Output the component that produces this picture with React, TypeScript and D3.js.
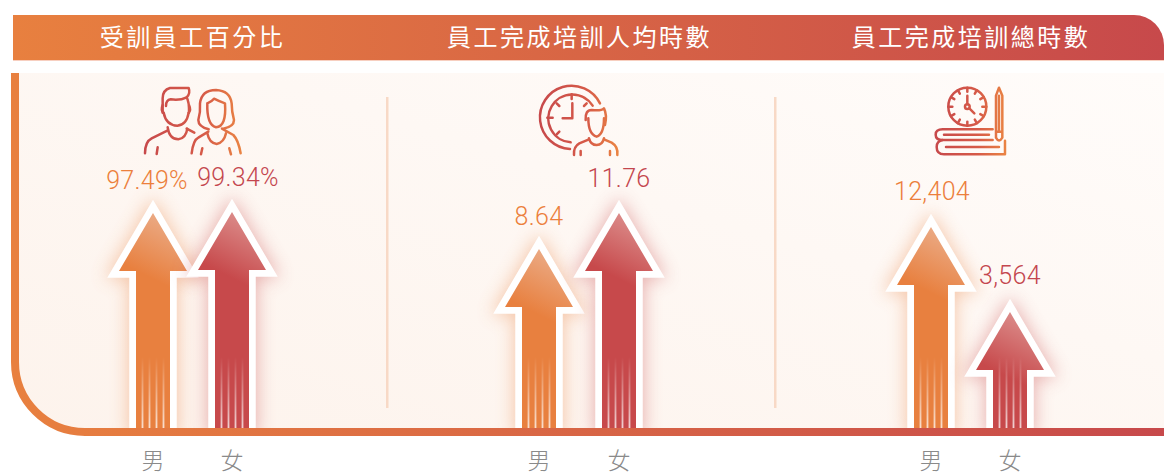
import React from "react";
import * as d3 from "d3";

const panelTitles = ["受訓員工百分比", "員工完成培訓人均時數", "員工完成培訓總時數"];
const genders = ["男", "女"];
const maleValues = [97.49, 8.64, 12404];
const femaleValues = [99.34, 11.76, 3564];
const valueLabels = [["97.49%", "99.34%"], ["8.64", "11.76"], ["12,404", "3,564"]];

// layout of each small-multiple panel (own scale per panel, as in the reference)
const titleCentres = [192.5, 579.5, 971];
const xRanges = [[153, 232], [539, 619], [931, 1010]];
const tipRanges = [[213, 212], [249, 213], [227, 312]];
const labelNudges = [[[-6, -24], [6, -26]], [[0, -24], [0, -26]], [[1, -27], [0, -28]]];
const dividers = [387, 775];

const W = 1164, H = 475;
const BASE = 428;
const ORANGE = "#E8803F", RED = "#C7494B";
const HEAD_H = 58, HEAD_HW = 34, SHAFT_HW = 17;
const streakOffsets = [-10.5, -3.5, 3.5, 10.5];

const line = d3.line<[number, number]>();
function arrowPath(cx: number, tip: number) {
  return line([
    [cx, tip],
    [cx + HEAD_HW, tip + HEAD_H],
    [cx + SHAFT_HW, tip + HEAD_H],
    [cx + SHAFT_HW, BASE],
    [cx - SHAFT_HW, BASE],
    [cx - SHAFT_HW, tip + HEAD_H],
    [cx - HEAD_HW, tip + HEAD_H],
  ])! + "Z";
}

const iconStyle = { fill: "none", strokeLinecap: "round", strokeLinejoin: "round" } as const;

function People() {
  return (
    <g transform="translate(90,70) scale(0.3333)" {...iconStyle} stroke="url(#icon1)" strokeWidth={7.5}>
      <path d="M218 128 V85 Q218 60 240 54 H296 Q302 70 290 82 Q270 92 242 88 Q228 90 228 108" />
      <path d="M290 82 Q298 95 297 128 M218 105 Q212 120 220 128 M297 105 Q304 120 296 128" />
      <path d="M221 128 Q228 165 262 167 Q290 165 296 128" />
      <path d="M233 172 Q238 208 265 208 Q288 205 292 176" />
      <path d="M165 250 Q165 215 185 205 L232 182 M290 176 L313 188" />
      <path d="M203 232 L200 252" />
      <path d="M356 178 Q325 170 325 150 Q332 125 330 100 Q335 60 378 60 Q420 62 425 100 Q425 125 432 150 Q432 170 400 176" />
      <path d="M352 100 Q365 95 372 86 Q390 95 405 100 Q410 170 378 172 Q350 165 352 100" />
      <path d="M305 250 Q310 210 325 203 L355 185" />
      <path d="M396 176 L430 195 Q445 210 452 250" />
      <path d="M352 190 Q358 220 380 222 Q402 218 408 190" />
      <path d="M337 235 L333 253 M418 235 L423 253" />
    </g>
  );
}

function ClockMan() {
  return (
    <g transform="translate(520,75) scale(0.3333)" {...iconStyle} stroke="url(#icon2)" strokeWidth={7.5}>
      <path d="M240 85 A95 95 0 1 0 150 222" />
      <path d="M218 92 A72 72 0 1 0 152 202" />
      <path d="M155 58 V72 M82 128 H98 M110 85 L118 93 M110 178 L118 170 M200 85 L192 93" />
      <path d="M157 85 V130 H128" />
      <path d="M197 135 Q195 105 215 105 Q245 108 252 100 Q262 120 255 150" />
      <path d="M205 130 Q205 178 230 185 Q252 178 252 130" />
      <path d="M207 190 Q212 210 230 210 Q248 210 252 190" />
      <path d="M162 240 Q160 215 178 205 L207 193 M252 193 L275 203 Q295 215 292 240" />
      <path d="M182 228 V240 M270 228 V240" />
    </g>
  );
}

function ClockBooks() {
  const ticks = d3.range(12).map((i) => (i * Math.PI) / 6);
  return (
    <g transform="translate(920,75) scale(0.3333)" {...iconStyle} stroke="url(#icon3)" strokeWidth={7.5}>
      <circle cx={142} cy={95} r={57} />
      {ticks.map((a, i) => (
        <line key={i} x1={142 + 57 * Math.sin(a)} y1={95 - 57 * Math.cos(a)} x2={142 + 45 * Math.sin(a)} y2={95 - 45 * Math.cos(a)} />
      ))}
      <circle cx={142} cy={95} r={7} />
      <path d="M142 62 V88 M148 100 L163 115" />
      <path d="M228 62 L237 38 L247 62 V188 Q237 205 228 188 Z M237 62 V170 M228 170 H247" />
      <path d="M218 163 H68 Q47 163 47 179 Q47 195 68 195 H218 M72 179 H207" />
      <path d="M68 195 Q50 198 50 216 Q50 238 72 238 H255 V197 M78 216 H237" />
    </g>
  );
}

export default function App() {
  return (
    <svg
      width={W}
      height={H}
      viewBox={`0 0 ${W} ${H}`}
      style={{ position: "absolute", left: 0, top: 0, display: "block", background: "#fff" }}
    >
      <defs>
        <linearGradient id="band" gradientUnits="userSpaceOnUse" x1={13} x2={1164} y1={0} y2={0}>
          <stop offset="0" stopColor={ORANGE} />
          <stop offset="1" stopColor={RED} />
        </linearGradient>
        <linearGradient id="bg" x1="0" y1="1" x2="1" y2="0">
          <stop offset="0" stopColor="#FDF3EC" />
          <stop offset="0.6" stopColor="#FEF8F4" />
          <stop offset="1" stopColor="#FFFCFA" />
        </linearGradient>
        {[["icon1", 160, 455], ["icon2", 60, 295], ["icon3", 45, 258]].map(([id, a, b]) => (
          <linearGradient key={id as string} id={id as string} gradientUnits="userSpaceOnUse" x1={a as number} x2={b as number} y1={0} y2={0}>
            <stop offset="0" stopColor={RED} />
            <stop offset="0.6" stopColor="#D65A48" />
            <stop offset="1" stopColor="#EA8443" />
          </linearGradient>
        ))}
        <filter id="glow" x="-60%" y="-40%" width="220%" height="180%">
          <feGaussianBlur stdDeviation={9} />
        </filter>
        <clipPath id="aboveBase">
          <rect x={0} y={60} width={W} height={376} />
        </clipPath>
        <linearGradient id="streak" x1="0" y1="1" x2="0" y2="0">
          <stop offset="0" stopColor="#fff" stopOpacity={0.75} />
          <stop offset="1" stopColor="#fff" stopOpacity={0} />
        </linearGradient>
      </defs>

      <path d={`M13 15 H1134 A30 30 0 0 1 1164 45 V60 H13 Z`} fill="url(#band)" />
      <rect x={13} y={60} width={1151} height={1} fill="#F7CFC0" />

      <path d={`M15 73 V362 A70 70 0 0 0 85 432 H1164 V73 Z`} fill="url(#bg)" />
      {dividers.map((x) => (
        <rect key={x} x={x - 1} y={97} width={2.5} height={311} fill="#F8D9C6" />
      ))}

      <People />
      <ClockMan />
      <ClockBooks />

      {panelTitles.map((t, i) => (
        <text
          key={t}
          x={titleCentres[i]}
          y={46}
          textAnchor="middle"
          fill="#fff"
          fontSize={24}
          letterSpacing={2.5}
          fontWeight={400}
          fontFamily="'Noto Sans CJK TC', sans-serif"
        >
          {t}
        </text>
      ))}

      {panelTitles.map((t, i) => {
        const x = d3.scalePoint().domain(genders).range(xRanges[i]);
        const vals = [maleValues[i], femaleValues[i]];
        const y = d3.scaleLinear().domain(vals).range(tipRanges[i]);
        return (
          <g key={t}>
            {genders.map((g, j) => {
              const cx = x(g)!;
              const tip = y(vals[j]);
              const col = j === 0 ? ORANGE : RED;
              const d = arrowPath(cx, tip);
              return (
                <g key={g}>
                  <defs>
                    <linearGradient id={`a${i}${j}`} gradientUnits="userSpaceOnUse" x1={cx + 20} y1={tip + 6} x2={cx - 8} y2={tip + 62}>
                      <stop offset="0" stopColor={j === 0 ? "#EBAC88" : "#DC8E8C"} />
                      <stop offset="1" stopColor={col} />
                    </linearGradient>
                  </defs>
                  <g clipPath="url(#aboveBase)">
                    <path d={d} fill={col} stroke={col} strokeWidth={16} strokeMiterlimit={10} opacity={0.4} filter="url(#glow)" />
                  </g>
                  <path d={d} fill="#fff" stroke="#fff" strokeWidth={13.5} strokeMiterlimit={10} />
                  <path d={d} fill={`url(#a${i}${j})`} />
                  {streakOffsets.map((o) => (
                    <rect key={o} x={cx + o - 0.9} y={BASE - 71} width={1.8} height={71} fill="url(#streak)" />
                  ))}
                </g>
              );
            })}
            {genders.map((g, j) => (
              <text
                key={g + "v"}
                x={x(g)! + labelNudges[i][j][0]}
                y={y(vals[j]) + labelNudges[i][j][1]}
                textAnchor="middle"
                fontSize={25}
                letterSpacing={0.3}
                fontWeight={300}
                fontFamily="Roboto, sans-serif"
                fill={j === 0 ? "#EC7F3C" : "#C4464E"}
              >
                {valueLabels[i][j]}
              </text>
            ))}
            {genders.map((g) => (
              <text
                key={g + "c"}
                x={x(g)!}
                y={468.5}
                textAnchor="middle"
                fontSize={23}
                fontWeight={300}
                fontFamily="'Noto Sans CJK TC', sans-serif"
                fill="#8A8A8A"
              >
                {g}
              </text>
            ))}
          </g>
        );
      })}

      <path d="M15 73 V362 A70 70 0 0 0 85 432 H1164" fill="none" stroke="url(#band)" strokeWidth={8} />
    </svg>
  );
}
